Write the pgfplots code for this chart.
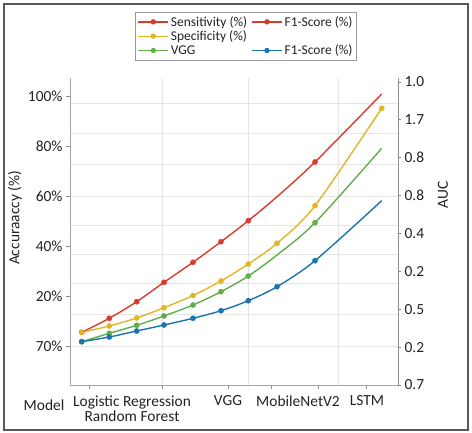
\documentclass[border=0pt]{standalone}
\usepackage{fontspec}
\setmainfont{Carlito}
\usepackage{pgfplots}
\pgfplotsset{compat=1.18}
\definecolor{c-red}{HTML}{D93A2E}
\definecolor{c-yel}{HTML}{E2B623}
\definecolor{c-grn}{HTML}{62AD4C}
\definecolor{c-blu}{HTML}{1C74AE}
\definecolor{c-txt}{HTML}{222222}

\begin{document}
\begin{tikzpicture}
\pgfplotsset{
  every axis/.append style={font=\fontsize{15.5}{18}\selectfont, text=c-txt},
  /pgf/number format/assume math mode=true,
  ser/.style={line width=1.4bp, smooth, tension=0.5, no markers},
  pts/.style={only marks, mark=*, mark size=2.6bp},
}
\useasboundingbox (0,0) rectangle (472bp,433bp);
\draw[black!65, line width=1.4bp] (4bp,3bp) rectangle (468bp,429bp);

\begin{axis}[
  at={(70bp,48bp)}, anchor=south west,
  scale only axis, width=328bp, height=307bp,
  xmin=70, xmax=398, ymin=-15.6, ymax=107.2,
  axis x line*=bottom, axis y line*=left,
  axis line style={-, draw=black!35, line width=0.9bp},
  tick style={draw=black!45, line width=0.8bp},
  tick align=outside, major tick length=4bp,
  xtick={89,162,228,271,318,366}, xticklabels={},
  ytick={0,20,40,60,80,100},
  yticklabels={70\%,20\%,40\%,60\%,80\%,100\%},
  minor xtick={162,248,338},
  minor ytick={0,12.8,25.2,36.8,48.4,60,72.8,85.2,97.2},
  minor tick length=0pt,
  xminorgrids=true, yminorgrids=true,
  minor grid style={draw=black!10, line width=0.9bp},
  extra x ticks={132,228,298,367},
  extra x tick labels={{Logistic Regression\\Random Forest},VGG,MobileNetV2,LSTM},
  extra x tick style={major tick length=0pt, grid=none,
    xticklabel style={align=center, yshift=-7bp, font=\fontsize{15.5}{15}\selectfont}},
  xlabel={Model},
  xlabel style={at={(axis description cs:-0.079,-0.065)}, anchor=center},
  ylabel={Accuraaccy (\%)},
  ylabel style={at={(axis description cs:-0.168,0.544)}, anchor=center},
  legend cell align=left,
  legend style={at={(axis description cs:0.537,1.215)}, anchor=north,
    draw=black!40, font=\fontsize{13.5}{15}\selectfont, legend columns=2,
    /tikz/every even column/.append style={column sep=2bp},
    row sep=-1bp, inner sep=2bp},
  legend image code/.code={\draw[mark repeat=2,mark phase=2] plot coordinates {(0bp,0bp)(15bp,0bp)(30bp,0bp)};},
]
% Sensitivity
\addplot[ser, c-red, forget plot] coordinates {
  (81.7,5.48)(109.3,11.08)(136.7,17.72)(164,25.48)(193,33.48)
  (221,41.72)(248.3,50.12)(277,59.7)(315,73.6)(381.7,100.8)};
\addplot[pts, c-red, forget plot] coordinates {
  (81.7,5.48)(109.3,11.08)(136.7,17.72)(164,25.48)(193,33.48)
  (221,41.72)(248.3,50.12)(315,73.6)};
% Specificity
\addplot[ser, c-yel, forget plot] coordinates {
  (81.7,5.48)(109.3,8.0)(136.7,11.2)(164,15.32)(193,20.2)
  (221,26.0)(248.3,32.8)(277,41.08)(315,56.12)(381.7,95.08)};
\addplot[pts, c-yel, forget plot] coordinates {
  (81.7,5.48)(109.3,8.0)(136.7,11.2)(164,15.32)(193,20.2)
  (221,26.0)(248.3,32.8)(277,41.08)(315,56.12)(381.7,95.08)};
% VGG
\addplot[ser, c-grn, forget plot] coordinates {
  (81.7,1.72)(109.3,5.08)(136.7,8.28)(164,12.0)(193,16.4)
  (221,21.72)(248.3,28.0)(277,36.4)(315,49.32)(381.7,79.08)};
\addplot[pts, c-grn, forget plot] coordinates {
  (81.7,1.72)(109.3,5.08)(136.7,8.28)(164,12.0)(193,16.4)
  (221,21.72)(248.3,28.0)(315,49.32)};
% F1-Score
\addplot[ser, c-blu, forget plot] coordinates {
  (81.7,1.72)(109.3,3.6)(136.7,6.0)(164,8.4)(193,11.08)
  (221,14.12)(248.3,18.12)(277,23.72)(315,34.12)(381.7,58.12)};
\addplot[pts, c-blu, forget plot] coordinates {
  (81.7,1.72)(109.3,3.6)(136.7,6.0)(164,8.4)(193,11.08)
  (221,14.12)(248.3,18.12)(277,23.72)(315,34.12)};

\addlegendimage{c-red, line width=1.3bp, mark=*, mark size=2bp}
\addlegendentry{Sensitivity (\%)}
\addlegendimage{c-red, line width=1.3bp, mark=*, mark size=2bp}
\addlegendentry{F1-Score (\%)}
\addlegendimage{c-yel, line width=1.3bp, mark=*, mark size=2bp}
\addlegendentry{Specificity (\%)}
\addlegendimage{empty legend}
\addlegendentry{}
\addlegendimage{c-grn, line width=1.3bp, mark=*, mark size=2bp}
\addlegendentry{VGG}
\addlegendimage{c-blu, line width=1.3bp, mark=*, mark size=2bp}
\addlegendentry{F1-Score (\%)}
\end{axis}

\begin{axis}[
  at={(70bp,48bp)}, anchor=south west,
  scale only axis, width=328bp, height=307bp,
  xmin=70, xmax=398, ymin=0, ymax=8.106,
  axis x line=none, axis y line*=right,
  axis line style={-, draw=black!45, line width=0.9bp},
  tick style={draw=black!45, line width=0.8bp},
  tick align=outside, major tick length=3bp,
  ytick={0,1,2,3,4,5,6,7,8},
  yticklabels={0.7,0.2,0.5,0.2,0.4,0.8,0.8,1.7,1.0},
  ylabel={AUC},
  ylabel style={at={(axis description cs:1.137,0.619)}, anchor=center},
]
\end{axis}
\end{tikzpicture}
\end{document}
